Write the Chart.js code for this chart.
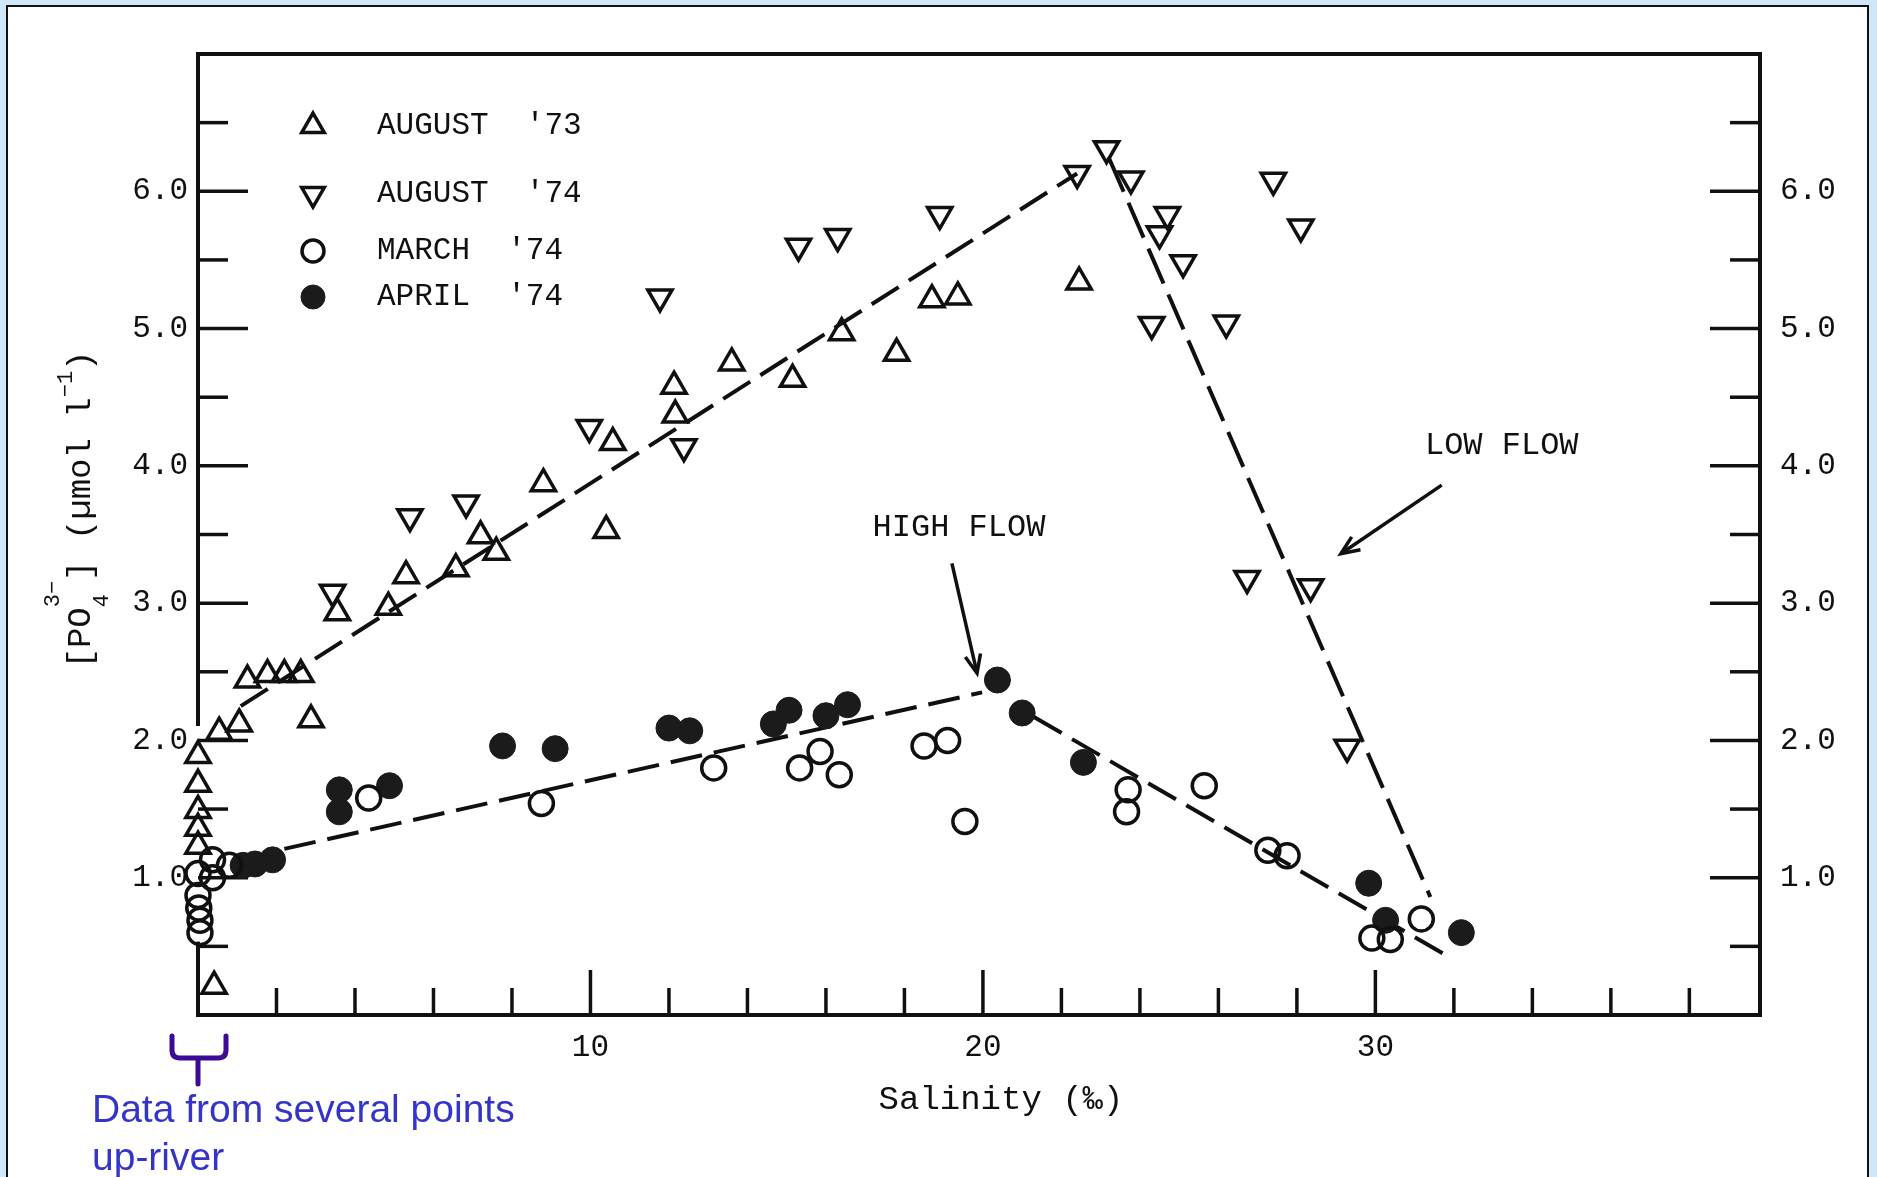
<!DOCTYPE html>
<html>
<head>
<meta charset="utf-8">
<title>Phosphate vs salinity</title>
<script src="https://cdn.jsdelivr.net/npm/chart.js@4.4.1/dist/chart.umd.min.js"></script>
<style>
  html, body { margin: 0; padding: 0; }
  body { width: 1877px; height: 1177px; background: #cfe7f9; position: relative; overflow: hidden; }
  #panel { position: absolute; left: 6px; top: 5px; width: 1859px; height: 1200px; background: #fff; border: 2px solid #111; }
  #chart { position: absolute; left: 0; top: 0; }
  #note { position: absolute; left: 92px; top: 1085px; font-family: "Liberation Sans", Arial, sans-serif;
          font-size: 39px; line-height: 48px; color: #3434c9; white-space: nowrap; }
</style>
</head>
<body>
<div id="panel"></div>
<canvas id="chart" width="1877" height="1177"></canvas>
<div id="note">Data from several points<br>up-river</div>
<script>
// ---- data: [salinity ‰, PO4 µmol/l] ----
const august73 = [
  [0.0, 1.89], [0.0, 1.68], [0.0, 1.49], [0.0, 1.36], [0.0, 1.23], [0.41, 0.21],
  [0.54, 2.06], [1.05, 2.12], [1.26, 2.44], [1.77, 2.48], [2.2, 2.48], [2.62, 2.48],
  [2.88, 2.15], [3.55, 2.93], [4.85, 2.97], [5.3, 3.2], [6.57, 3.25], [7.2, 3.49],
  [7.6, 3.37], [8.8, 3.87], [10.4, 3.53], [10.57, 4.17], [12.13, 4.58], [12.16, 4.37],
  [13.6, 4.75], [15.15, 4.63], [16.4, 4.97], [17.8, 4.82], [18.7, 5.21], [19.36, 5.23],
  [22.45, 5.34]
];
const august74 = [
  [3.43, 3.08], [5.4, 3.63], [6.83, 3.73], [9.97, 4.28], [11.77, 5.23], [12.38, 4.14],
  [15.3, 5.6], [16.3, 5.67], [18.9, 5.83], [22.4, 6.13], [23.15, 6.31], [23.77, 6.09],
  [24.3, 5.03], [24.5, 5.69], [24.7, 5.83], [25.1, 5.48], [26.2, 5.04], [26.73, 3.18],
  [27.4, 6.08], [28.1, 5.74], [28.35, 3.12], [29.28, 1.95]
];
const march74 = [
  [0.37, 1.13], [0.8, 1.09], [0.0, 1.03], [0.37, 1.0], [0.0, 0.87], [0.02, 0.78],
  [0.05, 0.69], [0.05, 0.6], [4.35, 1.58], [8.75, 1.54], [13.14, 1.8], [15.33, 1.8],
  [15.85, 1.92], [16.34, 1.75], [18.5, 1.96], [19.1, 2.0], [19.54, 1.41], [23.7, 1.64],
  [23.66, 1.48], [25.64, 1.67], [27.26, 1.2], [27.75, 1.16], [29.91, 0.56], [30.38, 0.55],
  [31.17, 0.7]
];
const april74 = [
  [1.15, 1.09], [1.45, 1.1], [1.9, 1.13], [3.6, 1.64], [3.6, 1.48], [4.88, 1.67],
  [7.76, 1.96], [9.1, 1.94], [12.0, 2.09], [12.53, 2.07], [14.66, 2.12], [15.06, 2.22],
  [16.0, 2.18], [16.55, 2.26], [20.37, 2.44], [21.0, 2.2], [22.56, 1.84], [29.83, 0.96],
  [30.26, 0.69], [32.19, 0.6]
];
// mixing lines
const lowFlowRise  = [[1.09, 2.25], [22.4, 6.13]];
const lowFlowFall  = [[23.2, 6.25], [31.4, 0.86]];
const highFlowRise = [[2.2, 1.21], [19.98, 2.35]];
const highFlowFall = [[21.3, 2.17], [31.95, 0.41]];

// axis labels
const xLabelValues = [10, 20, 30];
const yLabelValues = [1, 2, 3, 4, 5, 6];

// ---- styling / layout ----
const INK = '#101010';
const MONO = '"Liberation Mono", "DejaVu Sans Mono", monospace';
const toXY = arr => arr.map(([x, y]) => ({ x, y }));

const callouts = [
  { text: 'HIGH FLOW', at: [19.39, 3.55], from: [19.21, 3.29], to: [19.85, 2.49] },
  { text: 'LOW FLOW',  at: [33.22, 4.15], from: [31.69, 3.86], to: [29.12, 3.36] }
];

function seg(ctx, x1, y1, x2, y2) {
  ctx.beginPath(); ctx.moveTo(x1, y1); ctx.lineTo(x2, y2); ctx.stroke();
}
function arrow(ctx, x1, y1, x2, y2) {
  seg(ctx, x1, y1, x2, y2);
  const ang = Math.atan2(y2 - y1, x2 - x1), h = 20, spread = 0.4;
  ctx.beginPath();
  ctx.moveTo(x2 - h * Math.cos(ang - spread), y2 - h * Math.sin(ang - spread));
  ctx.lineTo(x2, y2);
  ctx.lineTo(x2 - h * Math.cos(ang + spread), y2 - h * Math.sin(ang + spread));
  ctx.stroke();
}

// inward tick marks and the plot frame
const frameTicks = {
  id: 'frameTicks',
  beforeDatasetsDraw(chart) {
    const { ctx, chartArea: a, scales: { x, y } } = chart;
    ctx.save();
    ctx.strokeStyle = INK;
    ctx.lineWidth = 3.5;
    for (let v = 0.5; v < 7; v += 0.5) {
      const py = y.getPixelForValue(v);
      const len = Number.isInteger(v) ? 50 : 30;
      seg(ctx, a.left, py, a.left + len, py);
      seg(ctx, a.right, py, a.right - len, py);
    }
    for (let v = 2; v < 39.8; v += 2) {
      const px = x.getPixelForValue(v);
      const len = v % 10 === 0 ? 45 : 27;
      seg(ctx, px, a.bottom, px, a.bottom - len);
    }
    ctx.lineWidth = 4;
    ctx.lineCap = 'square';
    seg(ctx, a.left, a.top, a.right, a.top);
    seg(ctx, a.right, a.top, a.right, a.bottom);
    seg(ctx, a.left, a.bottom, a.right, a.bottom);
    // left edge is interrupted behind the up-river cluster
    seg(ctx, a.left, a.bottom, a.left, y.getPixelForValue(0.52));
    seg(ctx, a.left, y.getPixelForValue(2.12), a.left, a.top);
    ctx.restore();
  }
};

// key, call-outs, axis titles and the up-river bracket
const decorations = {
  id: 'decorations',
  afterDatasetsDraw(chart) {
    const { ctx, chartArea: a, scales: { x, y } } = chart;
    ctx.save();

    // series key
    const rows = [72, 140, 197, 243];
    chart.data.datasets.slice(0, 4).forEach((ds, i) => {
      const ry = a.top + rows[i];
      ctx.save();
      ctx.lineWidth = ds.pointBorderWidth;
      ctx.strokeStyle = ds.pointBorderColor;
      ctx.fillStyle = ds.pointBackgroundColor;
      Chart.helpers.drawPoint(ctx, {
        pointStyle: ds.pointStyle, radius: ds.pointRadius - 1,
        rotation: ds.pointRotation || 0, borderWidth: ds.pointBorderWidth
      }, a.left + 115, ry);
      ctx.restore();
      ctx.fillStyle = INK;
      ctx.font = '31px ' + MONO;
      ctx.textAlign = 'left';
      ctx.textBaseline = 'middle';
      ctx.fillText(ds.label, a.left + 179, ry);
    });

    // call-outs
    ctx.strokeStyle = INK;
    ctx.lineWidth = 3.5;
    ctx.fillStyle = INK;
    ctx.font = '32px ' + MONO;
    ctx.textAlign = 'center';
    ctx.textBaseline = 'middle';
    callouts.forEach(c => {
      ctx.fillText(c.text, x.getPixelForValue(c.at[0]), y.getPixelForValue(c.at[1]));
      arrow(ctx, x.getPixelForValue(c.from[0]), y.getPixelForValue(c.from[1]),
                 x.getPixelForValue(c.to[0]), y.getPixelForValue(c.to[1]));
    });

    // x-axis title
    ctx.font = '34px ' + MONO;
    ctx.fillText('Salinity (\u2030)', (a.left + a.right) / 2 + 22, a.bottom + 85);

    // y-axis title, rotated, with sub/superscripts
    const big = '34px ' + MONO, small = '22px ' + MONO;
    const parts = [
      { t: '[PO', f: big },
      { stack: [{ t: '4', f: small, dy: 18 }, { t: '3\u2212', f: small, dy: -31 }] },
      { t: '] ', f: big },
      { t: '(\u00b5mol l', f: big },
      { t: '\u22121', f: small, dy: -18 },
      { t: ')', f: big }
    ];
    const width = p => {
      if (p.stack) return Math.max(...p.stack.map(width));
      ctx.font = p.f; return ctx.measureText(p.t).width;
    };
    const total = parts.reduce((s, p) => s + width(p), 0);
    ctx.save();
    ctx.translate(90, (a.top + a.bottom) / 2 - 25);
    ctx.rotate(-Math.PI / 2);
    ctx.textAlign = 'left';
    ctx.textBaseline = 'alphabetic';
    let cx = -total / 2;
    parts.forEach(p => {
      const items = p.stack || [p];
      items.forEach(it => { ctx.font = it.f; ctx.fillText(it.t, cx, it.dy || 0); });
      cx += width(p);
    });
    ctx.restore();

    // bracket under the zero-salinity stations
    const bx = x.getPixelForValue(0);
    ctx.strokeStyle = '#3c0a96';
    ctx.lineWidth = 5;
    ctx.lineJoin = 'round';
    ctx.lineCap = 'round';
    ctx.beginPath();
    ctx.moveTo(bx - 26, 1036);
    ctx.lineTo(bx - 26, 1050);
    ctx.quadraticCurveTo(bx - 26, 1058, bx - 18, 1058);
    ctx.lineTo(bx + 20, 1058);
    ctx.quadraticCurveTo(bx + 28, 1058, bx + 28, 1050);
    ctx.lineTo(bx + 28, 1036);
    ctx.moveTo(bx, 1058);
    ctx.lineTo(bx, 1084);
    ctx.stroke();

    ctx.restore();
  }
};

const hollow = 'rgba(0,0,0,0)';
const markerBase = { showLine: false, clip: false, pointBorderColor: INK, pointBorderWidth: 3.5, order: 1 };
const trend = { showLine: true, borderColor: INK, borderWidth: 4, borderDash: [32, 12],
                borderCapStyle: 'butt', pointRadius: 0, fill: false, order: 2 };

new Chart(document.getElementById('chart'), {
  type: 'scatter',
  data: {
    datasets: [
      { ...markerBase, label: "AUGUST  '73", data: toXY(august73), pointStyle: 'triangle',
        pointRadius: 14, pointRotation: 0, pointBackgroundColor: hollow },
      { ...markerBase, label: "AUGUST  '74", data: toXY(august74), pointStyle: 'triangle',
        pointRadius: 14, pointRotation: 180, pointBackgroundColor: hollow },
      { ...markerBase, label: "MARCH  '74", data: toXY(march74), pointStyle: 'circle',
        pointRadius: 12, pointBackgroundColor: hollow },
      { ...markerBase, label: "APRIL  '74", data: toXY(april74), pointStyle: 'circle',
        pointRadius: 13, pointBorderWidth: 1, pointBorderColor: '#1b1b1b', pointBackgroundColor: '#1b1b1b' },
      { ...trend, label: 'low flow', data: toXY(lowFlowRise) },
      { ...trend, label: 'low flow', data: toXY(lowFlowFall), borderDash: [38, 12] },
      { ...trend, label: 'high flow', data: toXY(highFlowRise) },
      { ...trend, label: 'high flow', data: toXY(highFlowFall) }
    ]
  },
  options: {
    responsive: false,
    animation: false,
    events: [],
    layout: { padding: { top: 54, left: 0, right: 0, bottom: 0 } },
    plugins: { legend: { display: false }, tooltip: { enabled: false } },
    scales: {
      x: {
        type: 'linear', position: 'bottom', min: 0, max: 39.8,
        afterFit: s => { s.height = 162; },
        grid: { display: false, drawTicks: false }, border: { display: false },
        ticks: { stepSize: 10, autoSkip: false, maxRotation: 0, padding: 14, color: INK,
                 font: { family: MONO, size: 31 },
                 callback: v => xLabelValues.includes(v) ? String(v) : '' }
      },
      y: {
        type: 'linear', position: 'left', min: 0, max: 7,
        afterFit: s => { s.width = 198; },
        grid: { display: false, drawTicks: false }, border: { display: false },
        ticks: { stepSize: 1, padding: 10, color: INK, font: { family: MONO, size: 31 },
                 callback: v => yLabelValues.includes(v) ? v.toFixed(1) : '' }
      },
      y2: {
        type: 'linear', position: 'right', min: 0, max: 7,
        afterFit: s => { s.width = 117; },
        grid: { display: false, drawTicks: false }, border: { display: false },
        ticks: { stepSize: 1, padding: 20, color: INK, font: { family: MONO, size: 31 },
                 callback: v => yLabelValues.includes(v) ? v.toFixed(1) : '' }
      }
    }
  },
  plugins: [frameTicks, decorations]
});
</script>
</body>
</html>
